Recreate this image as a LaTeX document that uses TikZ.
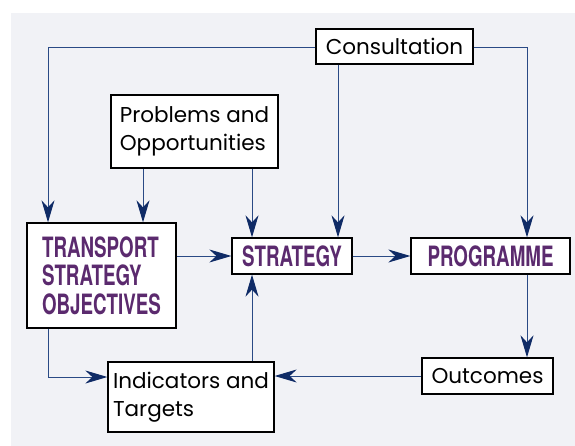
\documentclass[tikz,border=0pt]{standalone}
\usepackage{fontspec}
\setmainfont{Poppins}
\newfontfamily\condfont[FakeStretch=0.67]{TeX Gyre Heros}
\usetikzlibrary{arrows.meta}
\definecolor{bgc}{HTML}{F1F2F6}
\definecolor{linec}{HTML}{2A4A85}
\definecolor{headc}{HTML}{0F2B66}
\definecolor{purp}{HTML}{5B2A6E}
\tikzset{
  box/.style={draw=black, line width=1.3pt, fill=white, inner sep=0pt, anchor=center},
  plain/.style={box, font=\fontsize{21.5}{28.5}\selectfont, align=left},
  bold/.style={box, font=\condfont\bfseries\fontsize{28}{28.5}\selectfont, text=purp, align=left},
  arr/.style={draw=linec, line width=1pt, -{Stealth[length=22pt,width=13pt,inset=7pt,color=headc,fill=headc]}}
}
\begin{document}
\begin{tikzpicture}[x=1pt,y=-1pt]
\useasboundingbox (0,0) rectangle (575,446);
\fill[bgc] (11,13) rectangle (575,446);
\coordinate (tl) at (48,48);
\coordinate (tr) at (527,48);
\coordinate (cx) at (338,0);
\coordinate (px) at (143,0);
\coordinate (sx) at (252,0);
\coordinate (my) at (0,377);

\node[plain, minimum width=157pt, minimum height=35pt] (cons) at (394.5,46.5) {Consultation};
\node[plain, minimum width=167pt, minimum height=73pt] (prob) at (194.5,131.5) {Problems and\\Opportunities};
\node[bold, minimum width=149pt, minimum height=105pt] (tso) at (101.5,275.5) {TRANSPORT\\STRATEGY\\OBJECTIVES};
\node[bold, minimum width=120pt, minimum height=36pt] (strat) at (292,256) {STRATEGY};
\node[bold, minimum width=159pt, minimum height=36pt] (prog) at (490.5,256) {PROGRAMME};
\node[plain, minimum width=166pt, minimum height=70pt] (ind) at (191,397) {Indicators and\\Targets};
\node[plain, minimum width=131pt, minimum height=36pt] (out) at (487.5,376) {Outcomes};

\draw[arr] (cons.west |- tl) -| (tso.north -| tl);
\draw[arr] (cons.east |- tr) -| (prog.north -| tr);
\draw[arr] (cons.south -| cx) -- (strat.north -| cx);
\draw[arr] (prob.south -| px) -- (tso.north -| px);
\draw[arr] (prob.south -| sx) -- (strat.north -| sx);
\draw[arr] (tso.east |- strat.west) -- (strat.west);
\draw[arr] (strat.east) -- (prog.west);
\draw[arr] (prog.south -| tr) -- (out.north -| tr);
\draw[arr] (tso.south -| tl) |- (ind.west |- my);
\draw[arr] (out.west) -- (ind.east |- out.west);
\draw[arr] (ind.north -| sx) -- (strat.south -| sx);
\end{tikzpicture}
\end{document}
